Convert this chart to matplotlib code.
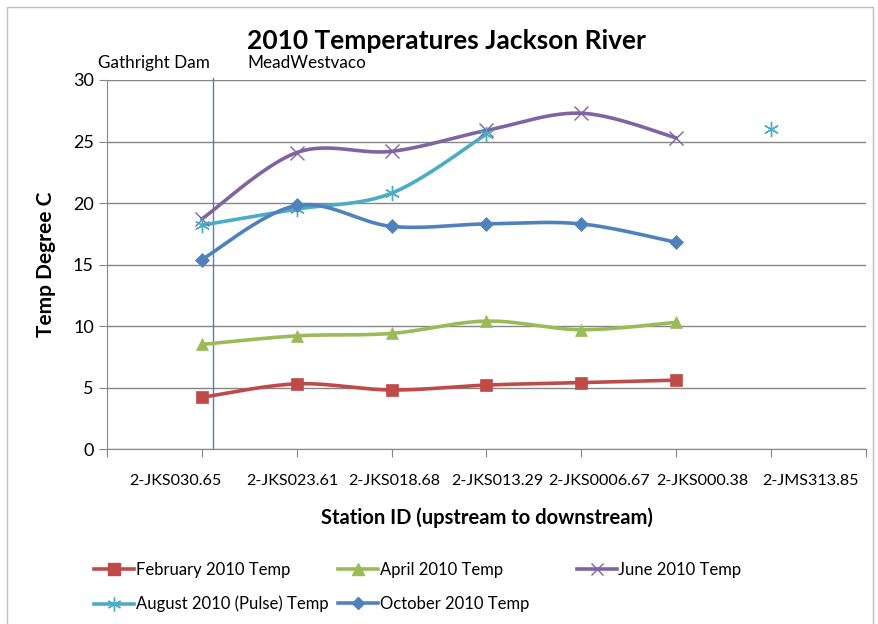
import numpy as np
import matplotlib
matplotlib.use("Agg")
import matplotlib.pyplot as plt
from matplotlib.patches import Rectangle

plt.rcParams['font.family'] = ['Lato', 'DejaVu Sans']

# stations (upstream to downstream)
stations = ['2-JKS030.65', '2-JKS023.61', '2-JKS018.68', '2-JKS013.29',
            '2-JKS0006.67', '2-JKS000.38', '2-JMS313.85']

feb = [4.2, 5.3, 4.8, 5.2, 5.4, 5.6]
apr = [8.5, 9.2, 9.4, 10.4, 9.7, 10.3]
jun = [18.7, 24.1, 24.2, 25.9, 27.3, 25.3]
aug = [18.2, 19.5, 20.8, 25.6]
aug_extra = 26.0   # lone August reading at 2-JMS313.85
oct_ = [15.4, 19.8, 18.1, 18.3, 18.3, 16.8]


def smooth(xs, ys, n=30):
    # bezier smoothing similar to excel's "smoothed line"
    xs = np.asarray(xs, float)
    ys = np.asarray(ys, float)
    px, py = [], []
    for i in range(len(xs) - 1):
        x0, y0 = (xs[i - 1], ys[i - 1]) if i > 0 else (xs[i], ys[i])
        x3, y3 = (xs[i + 2], ys[i + 2]) if i + 2 < len(xs) else (xs[i + 1], ys[i + 1])
        c1x = xs[i] + (xs[i + 1] - x0) / 6
        c1y = ys[i] + (ys[i + 1] - y0) / 6
        c2x = xs[i + 1] - (x3 - xs[i]) / 6
        c2y = ys[i + 1] - (y3 - ys[i]) / 6
        t = np.linspace(0, 1, n)
        bx = (1-t)**3*xs[i] + 3*(1-t)**2*t*c1x + 3*(1-t)*t**2*c2x + t**3*xs[i+1]
        by = (1-t)**3*ys[i] + 3*(1-t)**2*t*c1y + 3*(1-t)*t**2*c2y + t**3*ys[i+1]
        px.extend(bx)
        py.extend(by)
    return px, py


fig = plt.figure(figsize=(8.79, 6.24), dpi=100)
ax = fig.add_axes([0.1217, 0.2804, 0.8635, 0.5914])

series = [
    (feb, 'February 2010 Temp', '#BE4B48', 's', 9),
    (apr, 'April 2010 Temp', '#9BBB59', '^', 9),
    (jun, 'June 2010 Temp', '#8064A2', 'x', 10),
    (aug, 'August 2010 (Pulse) Temp', '#4BACC6', (6, 2, 0), 11),
    (oct_, 'October 2010 Temp', '#4F81BD', 'D', 7),
]

handles = {}
for vals, name, col, mk, ms in series:
    xs = np.arange(1, len(vals) + 1)
    sx, sy = smooth(xs, vals)
    ax.plot(sx, sy, color=col, lw=2.6, solid_capstyle='round', zorder=3)
    ax.plot(xs, vals, linestyle='none', marker=mk, ms=ms, color=col,
            mec=col, mew=1.0 if mk in ('x', (6, 2, 0)) else 0.5, zorder=4)
    handles[name] = plt.Line2D([], [], color=col, lw=2.6, marker=mk, ms=ms - 1,
                               mec=col, mew=1.0)

ax.plot([7], [aug_extra], linestyle='none', marker=(6, 2, 0), ms=11,
        color='#4BACC6', mew=1.0, zorder=4)

# dam location line
ax.axvline(1.12, ymin=0, ymax=1.005, color='#4F81BD', lw=1.0, clip_on=False, zorder=2)

ax.set_xlim(0, 8)
ax.set_ylim(0, 30)
ax.set_yticks(range(0, 31, 5))
ax.set_xticks(range(0, 9))
ax.set_xticklabels([])
ax.yaxis.grid(True, color='#868686', lw=1.0)
ax.set_axisbelow(True)
for s in ['top', 'right']:
    ax.spines[s].set_visible(False)
for s in ['left', 'bottom']:
    ax.spines[s].set_color('#868686')
ax.tick_params(axis='both', colors='#868686', length=6, labelcolor='black', labelsize=13)

label_pos = [0.72, 1.95, 3.03, 4.12, 5.19, 6.27, 7.42]
for xp, lab in zip(label_pos, stations):
    ax.text(xp, -0.087, lab, transform=ax.get_xaxis_transform(),
            ha='center', va='center', fontsize=11.6)

ax.text(0.5, -0.185, 'Station ID (upstream to downstream)', transform=ax.transAxes,
        ha='center', va='center', fontsize=14.5, fontweight='bold')
ax.set_ylabel('Temp Degree C', fontsize=15, fontweight='bold', labelpad=12)

fig.text(0.508, 0.934, '2010 Temperatures Jackson River', ha='center', va='center',
         fontsize=19, fontweight='bold')
fig.text(0.112, 0.899, 'Gathright Dam', ha='left', va='center', fontsize=12.3)
fig.text(0.281, 0.899, 'MeadWestvaco', ha='left', va='center', fontsize=12.3)

# legend laid out in three columns like the original
cols = [
    (['February 2010 Temp', 'August 2010 (Pulse) Temp'], 0.107),
    (['April 2010 Temp', 'October 2010 Temp'], 0.385),
    (['June 2010 Temp'], 0.656),
]
for names, xl in cols:
    fig.legend([handles[n] for n in names], names, loc='upper left',
               bbox_to_anchor=(xl, 0.1), frameon=False, fontsize=12,
               handlelength=2.4, handletextpad=0.1, labelspacing=1.1,
               borderpad=0, borderaxespad=0)

fig.patches.append(Rectangle((7 / 879, -0.02), 866 / 879, 1 - 7 / 624 + 0.02,
                             transform=fig.transFigure, fill=False,
                             edgecolor='#BFBFBF', lw=1.0))

fig.savefig('out.png', dpi=100)
